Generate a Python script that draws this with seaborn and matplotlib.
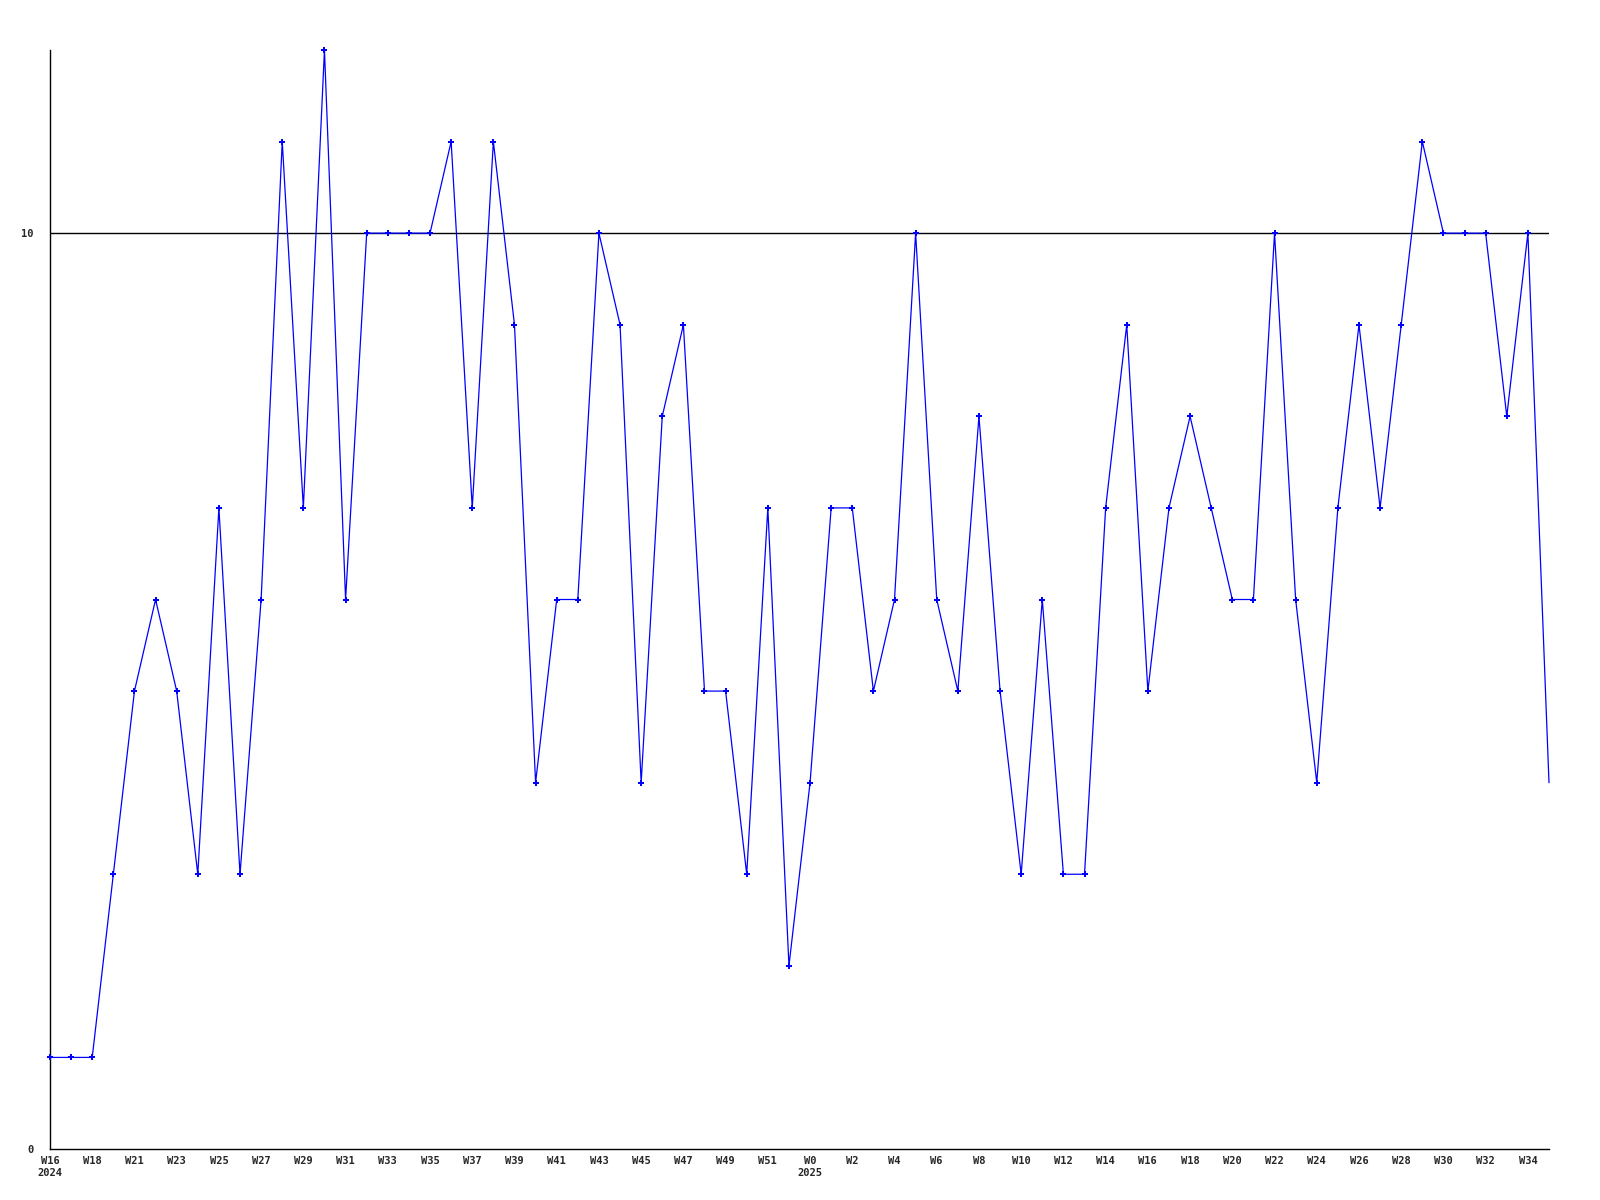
import matplotlib
matplotlib.use("Agg")
import matplotlib.pyplot as plt
import seaborn as sns
import pandas as pd

week_labels = ["W16", "W18", "W21", "W23", "W25", "W27", "W29", "W31", "W33", "W35",
               "W37", "W39", "W41", "W43", "W45", "W47", "W49", "W51", "W0", "W2",
               "W4", "W6", "W8", "W10", "W12", "W14", "W16", "W18", "W20", "W22",
               "W24", "W26", "W28", "W30", "W32", "W34"]
year_labels = {0: "2024", 18: "2025"}

values = [1, 1, 1, 3, 5, 6, 5, 3, 7, 3,
          6, 11, 7, 12, 6, 10, 10, 10, 10, 11,
          7, 11, 9, 4, 6, 6, 10, 9, 4, 8,
          9, 5, 5, 3, 7, 2, 4, 7, 7, 5,
          6, 10, 6, 5, 8, 5, 3, 6, 3, 3,
          7, 9, 5, 7, 8, 7, 6, 6, 10, 6,
          4, 7, 9, 7, 9, 11, 10, 10, 10, 8,
          10, 4]
threshold = 10

df = pd.DataFrame({"idx": list(range(len(values))), "value": values})

sns.set_theme(style="white")
plt.rcParams["font.family"] = ["DejaVu Sans Mono", "DejaVu Sans"]

fig = plt.figure(figsize=(16, 12), dpi=100)
ax = fig.add_axes([50 / 1600, 1 - 1149 / 1200, 1499 / 1600, (1149 - 50) / 1200])

ax.axhline(threshold, color="black", lw=1, zorder=1)
sns.lineplot(data=df, x="idx", y="value", ax=ax, color="#0000ff", lw=0.9,
             marker="P", markersize=4, markeredgewidth=0, zorder=3, clip_on=False,
             markevery=list(range(len(values) - 1)))

ax.set_xlim(0, len(values) - 1)
ax.set_ylim(0, 12)

ticks = list(range(0, 2 * len(week_labels), 2))
labels = []
for i, w in enumerate(week_labels):
    if i in year_labels:
        labels.append(w + "\n" + year_labels[i])
    else:
        labels.append(w)
ax.set_xticks(ticks)
ax.set_xticklabels(labels, fontsize=7.5, fontweight="bold", linespacing=1.3)
ax.set_yticks([0, 10])
ax.set_yticklabels(["0", "10"], fontsize=7.5, fontweight="bold")
ax.tick_params(axis="both", length=0, pad=12)
ax.tick_params(axis="x", pad=5)

ax.set_xlabel("")
ax.set_ylabel("")
for s in ["top", "right"]:
    ax.spines[s].set_visible(False)
for s in ["left", "bottom"]:
    ax.spines[s].set_color("black")
    ax.spines[s].set_linewidth(1)
ax.grid(False)

fig.savefig("out.png", dpi=100, facecolor="white")
